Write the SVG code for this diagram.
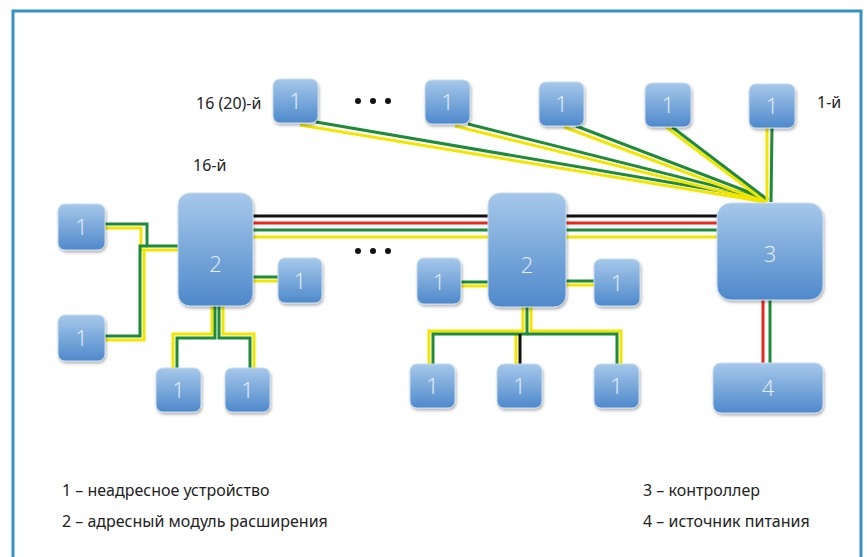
<svg xmlns="http://www.w3.org/2000/svg" width="867" height="557" viewBox="0 0 867 557">
<defs>
<linearGradient id="g" x1="0" y1="0" x2="0" y2="1">
<stop offset="0" stop-color="#a6c8ea"/>
<stop offset="1" stop-color="#4e89cb"/>
</linearGradient>
<filter id="sh" x="-20%" y="-20%" width="140%" height="140%">
<feDropShadow dx="1" dy="2" stdDeviation="1.5" flood-color="#000" flood-opacity="0.3"/>
</filter>
<style>
.n rect{fill:url(#g);stroke:#c9dcef;stroke-width:1;filter:url(#sh)}
.n text{fill:#e8f0fa;font-family:"Open Sans","Liberation Sans",sans-serif;font-size:22px;text-anchor:middle;font-weight:300}
.y{fill:none;stroke:#f2e600;stroke-width:3}
.gr{fill:none;stroke:#1f8a3a;stroke-width:3}
.r{fill:none;stroke:#e8281e;stroke-width:3}
.k{fill:none;stroke:#111;stroke-width:3}
.t{font-family:"Noto Sans","Open Sans","Liberation Sans",sans-serif;font-size:16px;fill:#222}
.d{fill:#111}
</style>
</defs>
<rect x="0" y="0" width="867" height="557" fill="#fff"/>
<rect x="13" y="11" width="848" height="570" fill="none" stroke="#3592c2" stroke-width="3"/>

<g id="connectors">
<path class="y" d="M300,125 L765,202"/>
<path class="gr" d="M316,122 L767,199"/>
<path class="y" d="M455,126 L765,202"/>
<path class="gr" d="M468,124 L767,199"/>
<path class="y" d="M564,127 L765,202"/>
<path class="gr" d="M576,126 L767,199"/>
<path class="y" d="M666,127 L766,202"/>
<path class="gr" d="M672,127 L768,200"/>
<path class="y" d="M767,127 L767,202"/>
<path class="gr" d="M772,127 L771,202"/>
<path class="k" d="M253,216 H717"/>
<path class="r" d="M253,223 H717"/>
<path class="gr" d="M253,230 H717"/>
<path class="y" d="M253,237 H717"/>
<path class="r" d="M763,300 V363"/>
<path class="gr" d="M770,300 V363"/>
<path class="y" d="M105,228 H141 V250 H178"/>
<path class="gr" d="M105,224 H147 V246 H178"/>
<path class="y" d="M105,340 H144 V250"/>
<path class="gr" d="M105,336 H140 V246 H147"/>
<path class="y" d="M253,281 H278"/>
<path class="gr" d="M253,277 H278"/>
<path class="y" d="M212,306 V334 H173 V368"/>
<path class="gr" d="M215,306 V338 H177 V368"/>
<path class="gr" d="M219,306 V338 H250 V368"/>
<path class="y" d="M223,306 V334 H254 V368"/>
<path class="y" d="M461,286 H488"/>
<path class="gr" d="M461,282 H488"/>
<path class="y" d="M566,285 H594"/>
<path class="gr" d="M566,281 H594"/>
<path class="y" d="M523,307 V331 H429 V364"/>
<path class="y" d="M531,307 V331 H621 V364"/>
<path class="y" d="M516,335 V364"/>
<path class="gr" d="M527,307 V334 H433 V364"/>
<path class="gr" d="M527,334 H617 V364"/>
<path class="k" d="M520,334 V364"/>
</g>

<g id="top1" class="n"><rect x="273" y="79" width="45" height="44" rx="7"/><text x="295.5" y="109">1</text></g>
<g id="top2" class="n"><rect x="425" y="80" width="45" height="44" rx="7"/><text x="447.5" y="110">1</text></g>
<g id="top3" class="n"><rect x="539" y="82" width="45" height="44" rx="7"/><text x="561.5" y="112">1</text></g>
<g id="top4" class="n"><rect x="645" y="83" width="46" height="44" rx="7"/><text x="668" y="113">1</text></g>
<g id="top5" class="n"><rect x="749" y="84" width="46" height="44" rx="7"/><text x="772" y="114">1</text></g>

<g id="left1a" class="n"><rect x="58" y="204" width="47" height="46" rx="7"/><text x="81.5" y="235">1</text></g>
<g id="left1b" class="n"><rect x="58" y="315" width="47" height="46" rx="7"/><text x="81.5" y="346">1</text></g>
<g id="mod2a" class="n"><rect x="178" y="193" width="75" height="113" rx="12"/><text x="215.5" y="272">2</text></g>
<g id="mod2a_r" class="n"><rect x="278" y="258" width="44" height="45" rx="7"/><text x="300" y="289">1</text></g>
<g id="mod2a_b1" class="n"><rect x="156" y="368" width="45" height="44" rx="7"/><text x="178.5" y="398">1</text></g>
<g id="mod2a_b2" class="n"><rect x="225" y="368" width="45" height="44" rx="7"/><text x="247.5" y="398">1</text></g>

<g id="mod2b" class="n"><rect x="488" y="193" width="78" height="114" rx="12"/><text x="527" y="273">2</text></g>
<g id="mod2b_l" class="n"><rect x="417" y="258" width="44" height="46" rx="7"/><text x="439" y="290">1</text></g>
<g id="mod2b_r" class="n"><rect x="594" y="259" width="46" height="47" rx="7"/><text x="617" y="291">1</text></g>
<g id="mod2b_b1" class="n"><rect x="410" y="364" width="45" height="44" rx="7"/><text x="432.5" y="394">1</text></g>
<g id="mod2b_b2" class="n"><rect x="497" y="364" width="45" height="44" rx="7"/><text x="519.5" y="394">1</text></g>
<g id="mod2b_b3" class="n"><rect x="594" y="364" width="45" height="44" rx="7"/><text x="616.5" y="394">1</text></g>

<g id="ctrl3" class="n"><rect x="717" y="203" width="106" height="97" rx="14"/><text x="770" y="262">3</text></g>
<g id="psu4" class="n"><rect x="713" y="363" width="110" height="50" rx="8"/><text x="768" y="396">4</text></g>

<g id="labels">
<text class="t" x="196" y="109">16 (20)-й</text>
<text class="t" x="817" y="108">1-й</text>
<text class="t" x="193" y="171">16-й</text>
<circle class="d" cx="358" cy="101" r="3"/><circle class="d" cx="373" cy="101" r="3"/><circle class="d" cx="388" cy="101" r="3"/>
<circle class="d" cx="358" cy="251" r="3"/><circle class="d" cx="373" cy="251" r="3"/><circle class="d" cx="388" cy="251" r="3"/>
<text class="t" x="62" y="496">1 – неадресное устройство</text>
<text class="t" x="62" y="527">2 – адресный модуль расширения</text>
<text class="t" x="643" y="496">3 – контроллер</text>
<text class="t" x="643" y="527">4 – источник питания</text>
</g>
</svg>
